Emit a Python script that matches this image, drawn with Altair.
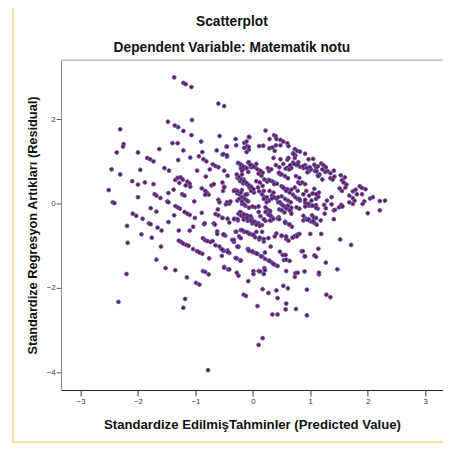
import altair as alt
import pandas as pd

# Standardized predicted values (x) and standardized residuals (y)
pred_a = [-1.37,-1.21,-1.17,-1.07,-0.60,-0.50,-1.48,-1.06,
          -1.36,-1.30,-1.21,-2.31,-1.07,-0.58,-0.30,-0.06,
          -0.90,-2.25,-2.26,-1.40,-1.31,-2.37,-2.00,-1.63,
          -1.21,-0.88,-0.63,-0.46,-0.29,-0.15,-0.10,-0.15,
          -0.07,-0.53,-0.45,-1.84,-1.79,-1.73,-1.30,-1.09,
          -0.94,-0.86,-0.81,-0.70,-0.65,-0.60,-0.26,-0.20,
          -0.14,-0.08,-0.03,-2.46,-2.31,-1.96,-1.54,-1.46,
          -0.97,-0.75,-0.50,-0.19,-0.15,-0.08,-0.82,-0.44,
          -0.27,-0.23,-0.17,-0.12,-2.10,-2.00,-1.88,-1.73,
          -1.35,-1.31,-1.26,-1.22,-1.28,-1.14,-1.10,-1.09,
          -1.17,-1.38,-0.89,-0.83,-0.80,-0.77,-0.83,-0.72,
          -0.68,-0.53,-0.50,-0.52,-0.31,-0.27,-0.19,-0.10,
          -2.51,-2.00,-1.71,-1.68,-1.61,-1.47,-1.23,-1.19,
          -1.49,-1.47,-1.02,-0.60,-0.58,-0.47,-0.41,-2.44,
          -2.41,-1.78,-1.68,-1.35,-1.31,-1.27,-1.19,-1.14,
          -1.10,-1.01,-1.37,-2.09,-2.03,-1.92,-1.81,-1.78,
          -1.47,-2.19,-1.66,-0.85,-0.68,-0.66,-0.65,-0.60,
          -0.61,-0.53,-0.44,-0.41,-0.32,-0.26,-0.20,-0.15,
          -0.07,-0.01]
resid_a = [2.99,2.86,2.83,2.76,2.37,2.31,1.94,1.98,
           1.85,1.81,1.72,1.76,1.62,1.60,1.53,1.57,
           1.47,1.41,1.35,1.43,1.43,1.21,1.21,1.29,
           1.26,1.22,1.26,1.35,1.38,1.44,1.36,1.32,
           1.28,1.16,1.11,1.08,1.05,1.00,1.03,1.09,
           1.12,1.05,1.00,0.93,0.89,0.86,0.96,0.91,
           0.86,0.97,0.86,0.81,0.69,0.80,0.84,0.78,
           0.78,0.81,0.78,0.78,0.83,0.75,0.64,0.66,
           0.61,0.57,0.52,0.48,0.53,0.45,0.50,0.46,
           0.56,0.61,0.62,0.57,0.49,0.52,0.47,0.40,
           0.43,0.33,0.36,0.30,0.26,0.21,0.21,0.43,
           0.46,0.50,0.40,0.30,0.32,0.24,0.32,0.22,
           0.32,0.15,0.22,0.19,0.13,0.25,0.22,0.19,
           0.05,0.03,0.05,0.09,0.03,-0.02,0.00,0.03,
           0.01,-0.11,-0.19,-0.06,-0.09,-0.12,-0.20,-0.24,
           -0.27,-0.34,-0.28,-0.24,-0.29,-0.36,-0.47,-0.49,
           -0.44,-0.53,-0.57,-0.49,-0.47,-0.50,-0.25,-0.28,
           -0.14,-0.34,-0.36,-0.45,-0.36,-0.40,-0.29,-0.26,
           -0.32,-0.47]

pred_b = [-1.59,-1.94,-2.18,-1.76,-1.60,-1.68,-1.52,-1.35,
          -2.20,-2.34,-1.29,-1.10,-1.04,-0.89,-0.84,-1.29,
          -1.25,-1.21,-1.16,-1.12,-1.04,-0.97,-0.93,-0.88,
          -0.76,-0.87,-0.83,-0.79,-0.74,-0.70,-0.62,-0.62,
          -0.65,-0.58,-0.55,-0.51,-0.54,-0.51,-0.48,-0.44,
          -0.41,-0.50,-0.43,-0.87,-0.83,-0.77,-1.15,-0.99,
          -0.93,-1.18,-1.21,-0.78,-0.30,-0.23,-0.15,-0.09,
          -0.21,-0.15,-0.06,-0.01,-0.36,-0.33,-0.26,-0.09,
          -0.01,-0.28,-0.22,-0.25,-0.08,0.01,0.01,-0.16,
          -0.12]
resid_b = [-0.64,-0.73,-0.93,-0.81,-1.02,-1.33,-1.53,-1.58,
           -1.67,-2.33,-0.64,-0.64,-0.55,-0.22,-0.47,-0.88,
           -0.91,-0.95,-0.98,-1.00,-1.08,-1.13,-1.16,-1.19,
           -1.30,-0.82,-0.87,-0.89,-0.91,-0.89,-0.66,-0.72,
           -0.99,-1.02,-1.08,-1.12,-1.24,-0.74,-0.76,-1.11,
           -1.17,-1.50,-1.56,-1.60,-1.62,-1.68,-1.75,-1.88,
           -1.92,-2.26,-2.47,-3.95,-0.67,-0.22,-0.36,-0.41,
           -0.63,-0.67,-0.71,-0.74,-0.86,-0.91,-1.03,-1.08,
           -1.15,-1.30,-1.35,-1.71,-1.84,-1.60,-1.67,-2.16,
           -2.19]

pred_c = [0.22,0.37,0.40,0.29,0.48,0.53,0.60,0.62,
          -0.11,-0.07,0.11,0.18,0.29,0.34,0.38,0.40,
          0.48,-0.11,0.36,0.48,0.60,0.62,0.73,0.77,
          0.82,0.70,0.74,0.91,0.97,1.05,0.70,0.76,
          0.79,0.82,0.88,0.91,0.98,0.95,1.01,1.10,
          1.13,1.19,1.23,1.08,1.13,1.16,1.27,1.30,
          1.35,1.41,1.35,1.39,1.42,1.53,1.60,1.55,
          1.58,1.63,1.51,1.55,1.61,1.74,1.79,1.81,
          1.86,1.90,1.96,1.90,1.94,1.68,1.74,1.77,
          2.04,2.09,2.21,2.30,2.21,2.00,1.24,1.29,
          1.37,1.41,1.25,1.50,1.54,1.56,0.98,1.02,
          1.10,1.14,0.88,0.78,1.07,0.79,0.82,0.91,
          0.73,0.67,0.60,0.54,0.50,0.42,0.37,0.33,
          0.27,0.45,0.48,0.57,0.61,0.67,0.46,0.50,
          0.55,0.58,0.62,0.66,0.76,0.81,0.92,0.97,
          0.88,0.93,0.98,1.07,1.11,1.03,1.09,0.45,
          0.57,0.68,0.29,0.33,0.22,0.04,0.10,0.13,
          -0.02,0.04,0.10,0.16,-0.19,-0.16,-0.25,-0.21,
          -0.19,-0.16,-0.13,-0.09,-0.06,-0.03,0.02,-0.25,
          -0.22,-0.17,-0.27,-0.23,-0.19,-0.14,-0.07,-0.02,
          0.04,0.08,0.10,0.15,0.20,0.25,0.28,0.32,
          0.26,0.09,0.11,0.16,0.20,0.24,0.28,0.33,
          0.37,0.41,0.22,0.27,0.30,-0.19,-0.13,-0.07,
          0.50,0.56,0.61,0.66,0.74,0.78,0.82]
resid_c = [1.73,1.62,1.59,1.53,1.51,1.47,1.43,1.36,
           1.47,1.34,1.36,1.37,1.31,1.33,1.25,1.38,
           1.38,1.22,1.08,1.05,1.04,1.08,1.29,1.25,
           1.23,1.19,1.14,1.18,1.05,1.06,0.97,0.91,
           0.98,0.87,0.84,0.91,0.77,0.74,0.81,0.86,
           0.88,0.95,0.91,0.77,0.67,0.69,0.86,0.77,
           0.72,0.78,0.60,0.57,0.64,0.67,0.62,0.55,
           0.50,0.45,0.36,0.30,0.38,0.29,0.33,0.22,
           0.41,0.37,0.34,0.22,0.05,0.19,0.13,0.07,
           0.12,0.15,0.06,0.07,-0.16,-0.23,-0.03,0.07,
           0.15,-0.16,-0.24,-0.09,-0.03,-0.07,0.19,0.07,
           0.11,0.16,0.22,0.30,0.35,0.50,0.47,0.46,
           0.38,0.33,0.34,0.36,0.41,0.47,0.50,0.53,
           0.56,0.72,0.69,0.83,0.85,0.84,-0.14,-0.16,
           -0.21,-0.09,-0.13,-0.19,-0.09,-0.12,0.01,-0.05,
           -0.29,-0.36,-0.40,-0.46,-0.50,-0.28,-0.35,-0.32,
           -0.46,-0.55,-0.24,-0.32,-0.41,-0.09,-0.20,-0.30,
           -0.36,-0.43,-0.47,-0.51,-0.24,-0.38,0.96,0.84,
           0.69,0.57,0.50,0.44,0.38,0.30,0.26,0.61,
           0.53,0.48,0.30,0.22,0.15,0.11,0.98,0.91,
           0.86,0.81,0.71,0.66,0.57,0.52,0.77,0.81,
           0.84,0.38,0.29,0.22,0.15,0.12,0.07,0.19,
           0.15,0.12,-0.09,-0.15,-0.18,-0.01,-0.05,-0.10,
           0.17,0.11,0.07,0.03,0.15,0.11,0.07]

pred_d = [-0.08,-0.01,0.10,0.24,0.44,0.50,0.55,0.61,
          0.67,0.91,0.97,1.02,1.10,1.13,1.27,1.37,
          1.43,1.68,1.74,1.91,-0.25,-0.21,-0.16,-0.10,
          -0.04,0.08,0.22,0.27,0.31,0.32,0.36,0.44,
          0.56,0.63,0.88,0.94,1.02,1.06,1.41,-0.29,
          -0.24,-0.21,-0.19,-0.14,-0.06,0.04,0.11,0.19,
          0.06,0.16,0.31,0.41,0.50,0.58,0.62,0.72,
          0.77,0.81,1.00,1.19,1.52,1.71,-0.25,-0.08,
          -0.01,0.04,0.08,0.16,0.21,0.27,0.33,0.38,
          0.43,0.21,0.47,0.57,0.54,0.64,0.85,0.90,
          1.07,1.10,1.14,1.27,1.47,-0.30,-0.21,0.10,
          0.19,0.20,0.58,0.74,0.73,1.15,0.17,0.27,
          0.41,0.43,0.53,0.61,0.94,1.28,1.35,0.08,
          0.58,0.57,0.75,0.34,0.43,0.94,0.17,0.10]
resid_d = [0.05,-0.07,-0.07,0.03,0.03,-0.02,-0.07,-0.12,
           -0.24,0.03,-0.01,-0.05,-0.04,-0.12,-0.11,-0.02,
           -0.15,0.03,-0.01,-0.01,-0.24,-0.28,-0.32,-0.28,
           -0.30,-0.47,-0.20,-0.26,-0.29,-0.40,-0.36,-0.36,
           -0.43,-0.49,-0.40,-0.38,-0.43,-0.33,-0.37,-0.67,
           -0.78,-0.82,-0.63,-0.67,-0.72,-0.80,-0.85,-0.90,
           -0.67,-0.67,-1.02,-0.71,-0.77,-0.84,-0.88,-0.78,
           -0.74,-0.72,-0.72,-0.72,-0.85,-0.98,-1.02,-1.08,
           -1.13,-1.17,-1.19,-1.25,-1.31,-1.35,-1.40,-1.45,
           -1.48,-1.16,-1.14,-1.22,-1.34,-1.36,-1.13,-1.25,
           -1.23,-1.26,-1.07,-1.40,-1.56,-1.29,-1.35,-1.60,
           -1.67,-1.53,-1.60,-1.65,-1.74,-1.68,-2.03,-2.12,
           -2.06,-2.24,-1.95,-2.01,-2.04,-2.16,-2.22,-2.43,
           -2.37,-2.51,-2.50,-2.63,-2.63,-2.65,-3.19,-3.35]

pred_e = [-0.07,-0.45,-0.51,-0.45,0.41,0.71,0.73,-0.21,
          -0.17,-0.11,-0.05,0.06,0.01,0.13,0.17,0.40,
          0.46,0.53,0.63,0.65,0.72,0.78,0.87,0.94,
          0.99,1.07,1.21,1.26,-0.28,-0.24,-0.20,-0.16,
          -0.11,-0.07,-0.03,0.01,0.06,0.12,0.17,0.29,
          0.37,0.46,0.50,0.56,0.61,0.75,0.81,0.86,
          1.11,1.14,1.21,-0.50,-0.33,-0.21,-0.13,0.19,
          0.29,0.36,0.44,0.53,0.58,0.64,0.70,0.93,
          1.04,1.10,1.15,-0.45,-0.27,-0.16,0.47,0.61,
          0.67,0.91,1.10]
resid_e = [1.58,1.35,1.17,1.14,1.53,1.17,1.08,0.92,
           0.88,0.84,0.92,0.94,0.88,0.78,0.73,0.91,
           0.86,0.94,0.81,0.91,0.94,0.92,0.88,0.84,
           0.86,0.92,0.81,0.75,0.69,0.63,0.57,0.53,
           0.49,0.44,0.40,0.34,0.53,0.50,0.42,0.55,
           0.46,0.73,0.69,0.65,0.60,0.65,0.61,0.50,
           0.77,0.65,0.57,0.38,0.30,0.26,0.21,0.30,
           0.30,0.26,0.15,0.38,0.30,0.26,0.21,0.30,
           0.24,0.22,0.26,0.03,0.07,-0.01,0.03,-0.05,
           -0.10,-0.07,-0.10]

pred_f = [-0.39,-0.24,-0.19,-0.10,0.19,0.24,0.33,0.53,
          0.58,0.64,0.81,0.91,1.04,-0.53,-0.33,-0.27,
          -0.22,-0.16,-0.10,-0.04,0.01,0.06,0.12,0.19,
          0.30,0.46,0.56,0.64,0.97,1.05,1.10,1.18,
          -0.51,-0.33,-0.10,0.01,0.12,0.19,0.27,0.38,
          0.50,0.58,0.69,0.77,-0.53,-0.44,-0.27,-0.07,
          0.07,0.14,0.29,0.36,0.52,0.58,0.87,0.91,
          -0.50,-0.41,-0.28,0.13,0.21,0.78,0.90,1.15]
resid_f = [0.05,0.11,0.05,0.07,0.11,0.15,0.12,-0.05,
           -0.11,-0.16,0.11,0.09,-0.05,-0.34,-0.37,-0.37,
           -0.20,-0.26,-0.34,-0.40,-0.43,-0.50,-0.53,-0.37,
           -0.40,-0.37,-0.45,-0.50,-0.37,-0.42,-0.34,-0.40,
           -0.73,-0.86,-0.68,-0.74,-0.81,-0.84,-0.82,-0.78,
           -0.76,-0.78,-0.81,-0.78,-1.09,-1.15,-1.02,-1.12,
           -1.19,-1.25,-1.36,-1.43,-1.22,-1.33,-1.13,-1.25,
           -1.52,-1.56,-1.64,-1.61,-1.58,-1.64,-1.61,-1.64]

x_ticks = [-3, -2, -1, 0, 1, 2, 3]
y_ticks = [-4, -2, 0, 2]

pred = pred_a + pred_b + pred_c + pred_d + pred_e + pred_f
resid = resid_a + resid_b + resid_c + resid_d + resid_e + resid_f
df = pd.DataFrame({"pred": pred, "resid": resid})

FONT = "Liberation Sans"
W, H = 389, 336
one = pd.DataFrame({"k": [0]})

points = alt.Chart(df).mark_circle(
    size=15, fill="#7a1232", stroke="#5c5cc8", strokeWidth=1, opacity=1
).encode(
    x=alt.X("pred:Q",
            scale=alt.Scale(domain=[-3.34, 3.31], nice=False, zero=False),
            axis=alt.Axis(values=x_ticks, title="Standardize EdilmişTahminler (Predicted Value)",
                          grid=False, domainColor="#222", domainWidth=1,
                          tickColor="#333", tickSize=6, labelFont=FONT, labelFontSize=8,
                          labelColor="#333", labelPadding=2, titleFont=FONT, titleFontSize=13.4,
                          titleFontWeight="bold", titleColor="#111", titleY=39,
                          titleBaseline="alphabetic")),
    y=alt.Y("resid:Q",
            scale=alt.Scale(domain=[-4.42, 3.40], nice=False, zero=False),
            axis=alt.Axis(values=y_ticks, title="Standardize Regresyon Artıkları (Residual)",
                          grid=False, domainColor="#888", domainWidth=1,
                          tickColor="#555", tickSize=5, labelFont=FONT, labelFontSize=8,
                          labelColor="#333", labelPadding=1, titleFont=FONT, titleFontSize=13,
                          titleFontWeight="bold", titleColor="#111", titleX=-25, titleY=168,
                          titleAngle=270, titleAlign="center", titleBaseline="alphabetic")),
)

frame_top = alt.Chart(one).mark_rule(color="#999", strokeWidth=1).encode(
    x=alt.value(0), x2=alt.value(W), y=alt.value(0))
border_left = alt.Chart(one).mark_rule(color="#f8e19a", strokeWidth=2).encode(
    x=alt.value(-49), y=alt.value(-56), y2=alt.value(390))
border_bottom = alt.Chart(one).mark_rule(color="#f8e19a", strokeWidth=2).encode(
    x=alt.value(-49), x2=alt.value(W), y=alt.value(389))

title = alt.Chart(one).mark_text(
    font=FONT, fontSize=14, fontWeight="bold", color="#111", align="center", baseline="alphabetic"
).encode(x=alt.value(174), y=alt.value(-35), text=alt.value("Scatterplot"))
subtitle = alt.Chart(one).mark_text(
    font=FONT, fontSize=14, fontWeight="bold", color="#111", align="center", baseline="alphabetic"
).encode(x=alt.value(174), y=alt.value(-8), text=alt.value("Dependent Variable: Matematik notu"))

chart = alt.layer(border_left, border_bottom, frame_top, points, title, subtitle).properties(
    width=W, height=H,
    autosize=alt.AutoSizeParams(type="none"),
    padding={"left": 54, "top": 49, "right": 0, "bottom": 56},
    background="white",
).configure_view(stroke=None)

chart.save("out.html", embed_options={"renderer": "svg", "actions": False})
